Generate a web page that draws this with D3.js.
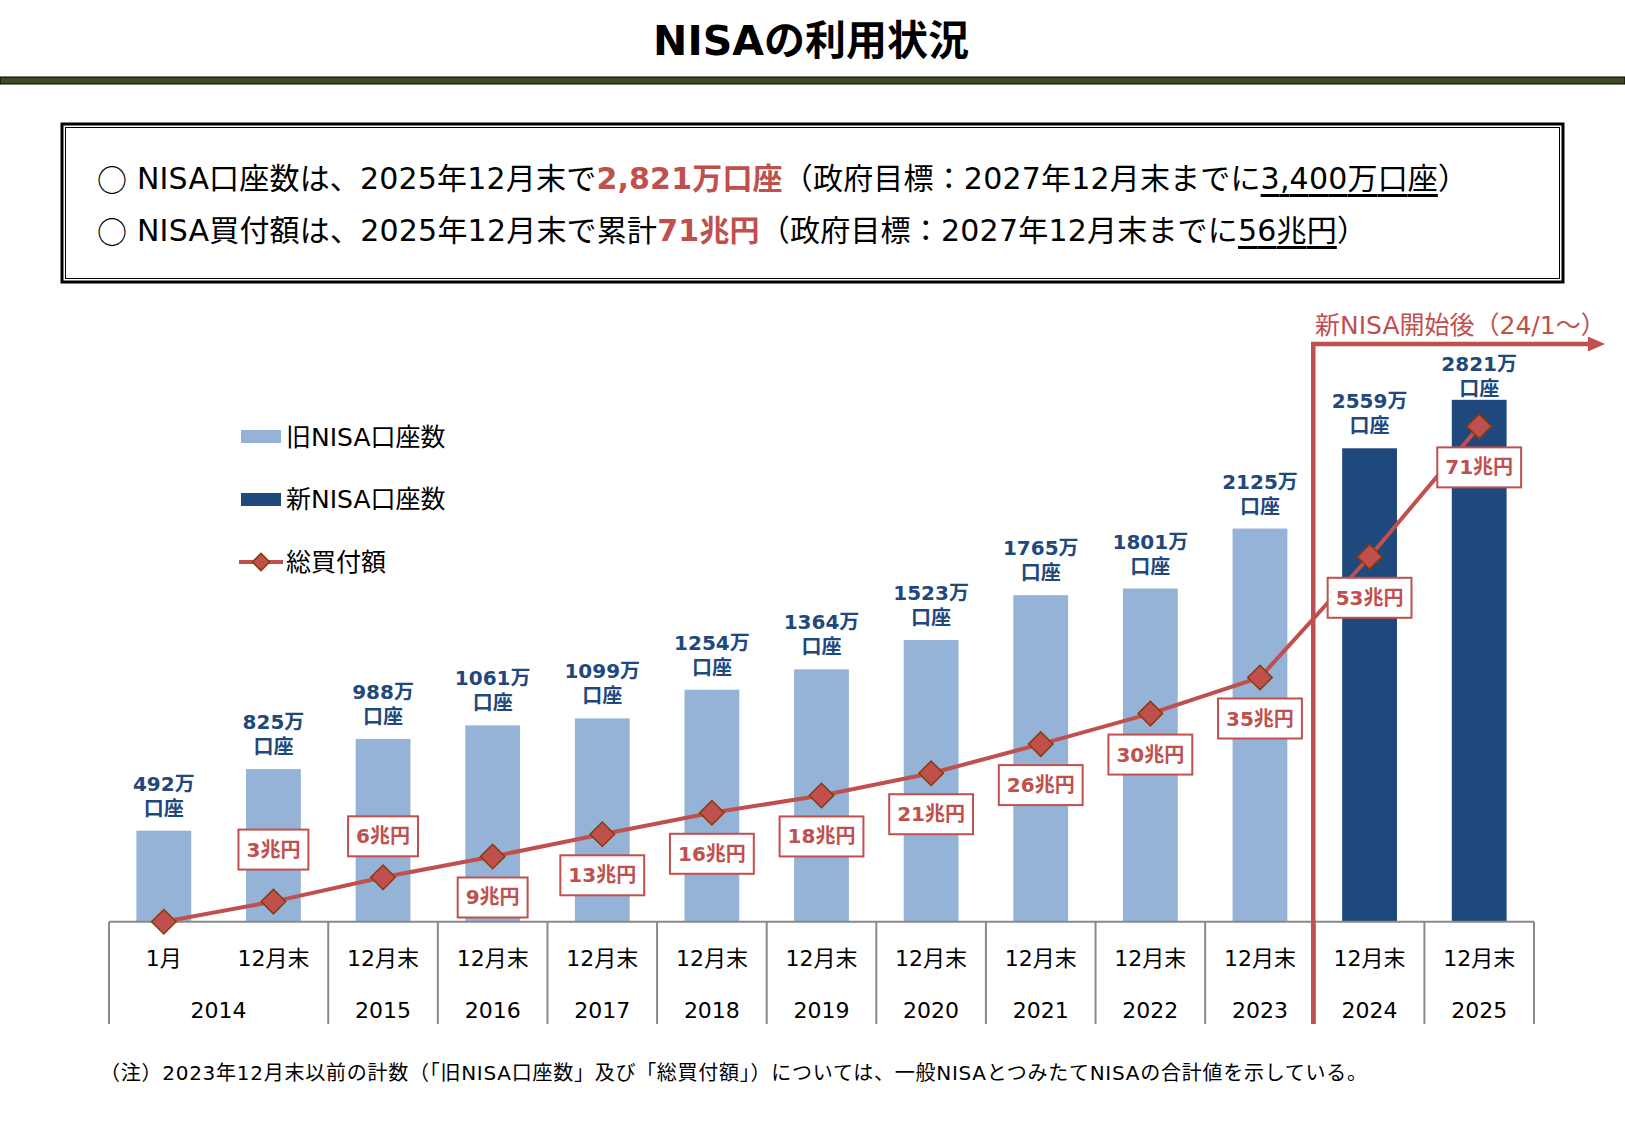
<!DOCTYPE html>
<html>
<head>
<meta charset="utf-8">
<script src="https://cdn.jsdelivr.net/npm/d3@7"></script>
<style>
body { margin: 0; background: #fff; }
text { font-family: "DejaVu Sans", "Noto Sans CJK JP", sans-serif; }
</style>
</head>
<body>
<div id="chart"></div>
<script>
// categories
var periods = ["1月", "12月末", "12月末", "12月末", "12月末", "12月末", "12月末",
               "12月末", "12月末", "12月末", "12月末", "12月末", "12月末"];
var years = ["2014", "2014", "2015", "2016", "2017", "2018", "2019",
             "2020", "2021", "2022", "2023", "2024", "2025"];

// 口座数 (万口座)
var oldAccounts = [492, 825, 988, 1061, 1099, 1254, 1364, 1523, 1765, 1801, 2125, null, null];
var newAccounts = [null, null, null, null, null, null, null, null, null, null, null, 2559, 2821];

// 総買付額 (兆円)
var totalBuy = [0, 2.9, 6.4, 9.4, 12.6, 15.7, 18.2, 21.4, 25.6, 30.0, 35.2, 52.6, 71.4];

var legendLabels = ["旧NISA口座数", "新NISA口座数", "総買付額"];

var red = "#c0504d",
    lightBlue = "#95b3d7",
    darkBlue = "#1f497d";

var svg = d3.select("#chart")
    .append("svg")
    .attr("width", 1625)
    .attr("height", 1125);

/*
Header
 */
svg.append("text")
    .attr("x", 811)
    .attr("y", 41)
    .attr("text-anchor", "middle")
    .attr("dominant-baseline", "central")
    .style("font-size", "41px")
    .style("font-weight", "bold")
    .text("NISAの利用状況");

svg.append("rect")
    .attr("x", 0).attr("y", 77)
    .attr("width", 1625).attr("height", 7)
    .style("fill", "#3c4b1f")
    .style("stroke", "#000")
    .style("stroke-width", 1);

// summary box (double border)
svg.append("rect")
    .attr("x", 62).attr("y", 124)
    .attr("width", 1501).attr("height", 158)
    .style("fill", "none").style("stroke", "#000").style("stroke-width", 3);
svg.append("rect")
    .attr("x", 65.5).attr("y", 127.5)
    .attr("width", 1494).attr("height", 151)
    .style("fill", "none").style("stroke", "#000").style("stroke-width", 1);

var summary = [
    [["○", "mark"], [" NISA口座数は、2025年12月末で", ""], ["2,821万口座", "red"], ["（政府目標：2027年12月末までに", ""], ["3,400万口座", "under"], ["）", ""]],
    [["○", "mark"], [" NISA買付額は、2025年12月末で累計", ""], ["71兆円", "red"], ["（政府目標：2027年12月末までに", ""], ["56兆円", "under"], ["）", ""]]
];
var summaryLength = [1371, 1270];

summary.forEach(function(parts, i) {
    var t = svg.append("text")
        .attr("x", 97)
        .attr("y", 178 + i * 52)
        .attr("dominant-baseline", "central")
        .attr("textLength", summaryLength[i])
        .attr("lengthAdjust", "spacing")
        .style("font-size", "30px");
    parts.forEach(function(p) {
        var s = t.append("tspan").text(p[0]);
        if (p[1] == "mark") s.style("font-family", '"Noto Sans CJK JP", sans-serif');
        if (p[1] == "red") s.style("fill", red).style("font-weight", "bold");
        if (p[1] == "under") s.style("text-decoration", "underline");
    });
});

/*
Chart
 */
var axisY = 921.7, axisBottom = 1024;

var x = d3.scaleBand()
    .domain(d3.range(periods.length))
    .range([109, 1534])
    .paddingInner(0.5)
    .paddingOuter(0.25);

var yBar = d3.scaleLinear().domain([0, 3000]).range([axisY, axisY - 555]);
var yLine = d3.scaleLinear().domain([0, 80]).range([axisY, axisY - 555]);

var step = x.step();
function edgeLeft(i) { return x(i) - step * 0.25; }
function edgeRight(i) { return x(i) + x.bandwidth() + step * 0.25; }
function cx(i) { return x(i) + x.bandwidth() / 2; }

// bars
svg.append("g").selectAll("rect")
    .data(d3.range(periods.length))
    .enter()
    .append("rect")
    .attr("x", function(i) { return x(i); })
    .attr("width", x.bandwidth())
    .attr("y", function(i) { return yBar(oldAccounts[i] || newAccounts[i]); })
    .attr("height", function(i) { return axisY - yBar(oldAccounts[i] || newAccounts[i]); })
    .style("fill", function(i) { return oldAccounts[i] ? lightBlue : darkBlue; });

// bar labels (two lines: 万 / 口座)
var barLabels = svg.append("g").selectAll("g")
    .data(d3.range(periods.length))
    .enter()
    .append("g")
    .attr("transform", function(i) {
        var v = oldAccounts[i] || newAccounts[i];
        return "translate(" + cx(i) + "," + Math.max(yBar(v) - 47, 364) + ")";
    });

barLabels.selectAll("text")
    .data(function(i) { return [(oldAccounts[i] || newAccounts[i]) + "万", "口座"]; })
    .enter()
    .append("text")
    .attr("y", function(d, k) { return k * 25; })
    .attr("text-anchor", "middle")
    .attr("dominant-baseline", "central")
    .style("font-size", "20px")
    .style("font-weight", "bold")
    .style("fill", darkBlue)
    .text(function(d) { return d; });

// x axis (period row)
var xAxis = d3.axisBottom(x)
    .tickSize(0)
    .tickFormat(function(i) { return periods[i]; });

var gAxis = svg.append("g")
    .attr("transform", "translate(0," + axisY + ")")
    .call(xAxis);
gAxis.select(".domain").remove();
gAxis.selectAll("text")
    .attr("y", 36.5)
    .attr("dy", null)
    .attr("dominant-baseline", "central")
    .style("font-family", '"DejaVu Sans", "Noto Sans CJK JP", sans-serif')
    .style("font-size", "22px")
    .style("fill", "#000");

// year groups
var groups = [];
years.forEach(function(yr, i) {
    var last = groups[groups.length - 1];
    if (last && last.year == yr) last.end = i;
    else groups.push({ year: yr, start: i, end: i });
});

svg.append("line")
    .attr("x1", 109).attr("x2", 1534)
    .attr("y1", axisY).attr("y2", axisY)
    .style("stroke", "#898989").style("stroke-width", 2);

var seps = [edgeLeft(0)].concat(groups.map(function(g) { return edgeRight(g.end); }));
svg.append("g").selectAll("line")
    .data(seps)
    .enter()
    .append("line")
    .attr("x1", function(d) { return d; }).attr("x2", function(d) { return d; })
    .attr("y1", axisY).attr("y2", axisBottom)
    .style("stroke", "#898989").style("stroke-width", 2);

svg.append("g").selectAll("text")
    .data(groups)
    .enter()
    .append("text")
    .attr("x", function(g) { return (edgeLeft(g.start) + edgeRight(g.end)) / 2; })
    .attr("y", 1010)
    .attr("text-anchor", "middle")
    .attr("dominant-baseline", "central")
    .style("font-size", "22px")
    .text(function(g) { return g.year; });

// new NISA marker
var splitX = edgeLeft(years.indexOf("2024")) - 1.5;
svg.append("path")
    .attr("d", "M" + splitX + "," + axisBottom + "V344H1592")
    .style("fill", "none").style("stroke", red).style("stroke-width", 4.5);
svg.append("path")
    .attr("d", "M1588,336.5L1605,344L1588,351.5Z")
    .style("fill", red);
svg.append("text")
    .attr("x", 1315)
    .attr("y", 325)
    .attr("dominant-baseline", "central")
    .style("font-size", "25px")
    .style("fill", red)
    .text("新NISA開始後（24/1～）");

// 総買付額 line
var line = d3.line()
    .x(function(d, i) { return cx(i); })
    .y(function(d) { return yLine(d); });

svg.append("path")
    .datum(totalBuy)
    .attr("d", line)
    .style("fill", "none").style("stroke", red).style("stroke-width", 4);

var diamond = d3.symbol().type(d3.symbolSquare).size(300);

svg.append("g").selectAll("path")
    .data(totalBuy)
    .enter()
    .append("path")
    .attr("d", diamond)
    .attr("transform", function(d, i) { return "translate(" + cx(i) + "," + yLine(d) + ") rotate(45)"; })
    .style("fill", red).style("stroke", "#8b3a0a").style("stroke-width", 1.5);

// value labels
var valLabels = svg.append("g").selectAll("g")
    .data(totalBuy.slice(1))
    .enter()
    .append("g")
    .attr("transform", function(d, j) {
        var i = j + 1;
        var off = i == 1 ? -52 : (i == 2 ? -41 : 41);
        return "translate(" + cx(i) + "," + (yLine(d) + off) + ")";
    });

valLabels.append("rect").style("fill", "#fff").style("stroke", red).style("stroke-width", 2);
valLabels.append("text")
    .attr("text-anchor", "middle")
    .attr("dominant-baseline", "central")
    .style("font-size", "20px")
    .style("font-weight", "bold")
    .style("fill", red)
    .text(function(d) { return Math.round(d) + "兆円"; });
valLabels.each(function() {
    var w = d3.select(this).select("text").node().getComputedTextLength() + 16;
    d3.select(this).select("rect")
        .attr("x", -w / 2).attr("y", -20)
        .attr("width", w).attr("height", 40);
});

// legend
var legend = svg.append("g");
legend.append("rect").attr("x", 241).attr("y", 430).attr("width", 40).attr("height", 13).style("fill", lightBlue);
legend.append("rect").attr("x", 241).attr("y", 493).attr("width", 40).attr("height", 13).style("fill", darkBlue);
legend.append("line").attr("x1", 239).attr("x2", 283).attr("y1", 562).attr("y2", 562)
    .style("stroke", red).style("stroke-width", 4);
legend.append("path").attr("d", d3.symbol().type(d3.symbolSquare).size(150))
    .attr("transform", "translate(261,562) rotate(45)")
    .style("fill", red).style("stroke", "#8b3a0a").style("stroke-width", 1.5);
legend.selectAll("text")
    .data(legendLabels)
    .enter()
    .append("text")
    .attr("x", 286)
    .attr("y", function(d, i) { return 437 + i * 62.5; })
    .attr("dominant-baseline", "central")
    .style("font-size", "25px")
    .text(function(d) { return d; });

// note
svg.append("text")
    .attr("x", 100)
    .attr("y", 1073)
    .attr("dominant-baseline", "central")
    .attr("textLength", 1267)
    .attr("lengthAdjust", "spacing")
    .style("font-size", "20px")
    .text("（注）2023年12月末以前の計数（「旧NISA口座数」及び「総買付額」）については、一般NISAとつみたてNISAの合計値を示している。");
</script>
</body>
</html>
